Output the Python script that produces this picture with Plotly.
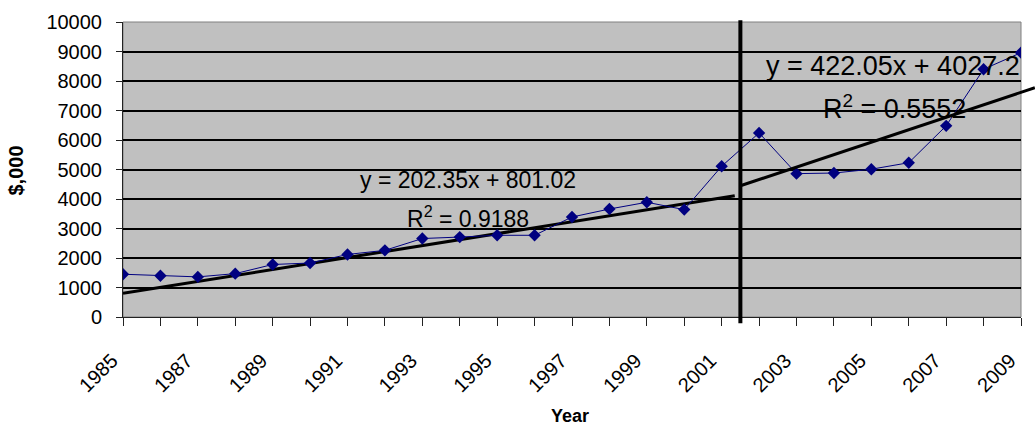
import plotly.graph_objects as go

years = list(range(1985, 2010))
values = [1450, 1400, 1360, 1470, 1780, 1830, 2120, 2260, 2660, 2710, 2770, 2770,
          3390, 3660, 3890, 3640, 5110, 6240, 4860, 4880, 5010, 5230, 6480, 8400, 8960]
label_years = years[::2]
tick_labels = [str(y) for y in label_years]

# trend line 1 (1985 - 2001): y = 202.35x + 801.02 (x = years since 1985)
t1_slope, t1_icpt = 202.35, 801.02
t1_x = [1985, 2001.35]
t1_y = [t1_slope * (x - 1985) + t1_icpt for x in t1_x]
# trend line 2 (2002 - 2009): y = 422.05x + 4027.2 (x = years since 2000.5)
t2_slope, t2_icpt = 422.05, 4027.2
t2_x = [2001.5, 2009.37]
t2_y = [t2_slope * (x - 2000.5) + t2_icpt for x in t2_x]
split_year = 2001.5

X0, X1 = 1985, 2009
Y0, Y1 = 0, 10000
FONT = "Arial, Liberation Sans, sans-serif"

def px(x):
    return (x - X0) / (X1 - X0)

def py(y):
    return (y - Y0) / (Y1 - Y0)

fig = go.Figure()
fig.add_trace(go.Scatter(x=t1_x, y=t1_y, mode="lines",
                         line=dict(color="black", width=3), hoverinfo="skip"))
fig.add_trace(go.Scatter(x=years, y=values, mode="lines+markers",
                         line=dict(color="#000080", width=1),
                         marker=dict(symbol="diamond", size=9.5, color="#000080")))

shapes = [
    dict(type="rect", xref="paper", yref="paper", x0=0, x1=1, y0=0, y1=1,
         line=dict(color="#808080", width=1), layer="below"),
    dict(type="line", xref="x", yref="paper", x0=split_year, x1=split_year,
         y0=-0.021, y1=1.006, line=dict(color="black", width=4)),
    dict(type="line", xref="paper", yref="paper",
         x0=px(t2_x[0]), x1=px(t2_x[1]), y0=py(t2_y[0]), y1=py(t2_y[1]),
         line=dict(color="black", width=3)),
]

def ann(text, x, y, size, angle=0):
    return dict(text=text, x=x, y=y, xref="paper", yref="paper", xanchor="center",
                yanchor="middle", showarrow=False, textangle=angle,
                font=dict(family=FONT, size=size, color="black"))

annotations = [
    ann("y = 202.35x + 801.02", 0.384, 0.463, 23),
    ann("R<sup>2</sup> = 0.9188", 0.384, 0.338, 23),
    ann("y = 422.05x + 4027.2", 0.857, 0.850, 27),
    ann("R<sup>2</sup> = 0.5552", 0.859, 0.711, 27),
    ann("<b>$,000</b>", -0.119, 0.497, 20, -90),
    ann("<b>Year</b>", 0.498, -0.337, 18),
]

fig.update_layout(
    width=1035, height=426,
    margin=dict(l=123, r=14, t=22, b=109, autoexpand=False),
    paper_bgcolor="white", plot_bgcolor="#C0C0C0",
    showlegend=False,
    shapes=shapes, annotations=annotations,
    font=dict(family=FONT, color="black"),
)
fig.update_xaxes(range=[X0, X1], tickvals=label_years, ticktext=tick_labels, tickangle=-45,
                 ticks="outside", ticklen=8, tickcolor="#222",
                 minor=dict(ticks="outside", ticklen=8, tickcolor="#222", dtick=1, tick0=1985,
                            showgrid=False),
                 ticklabelstandoff=15, ticklabelshift=-11,
                 showgrid=False, showline=True, linecolor="#222", linewidth=1, zeroline=False,
                 tickfont=dict(family=FONT, size=20, color="black"))
fig.update_yaxes(range=[Y0, Y1], dtick=1000, tickformat="d", ticks="outside", ticklen=6,
                 tickcolor="#222", ticklabelstandoff=10,
                 showgrid=True, gridcolor="black", gridwidth=1.5,
                 showline=True, linecolor="#222", linewidth=1, zeroline=False,
                 tickfont=dict(family=FONT, size=20, color="black"))

fig.write_html("out.html")
